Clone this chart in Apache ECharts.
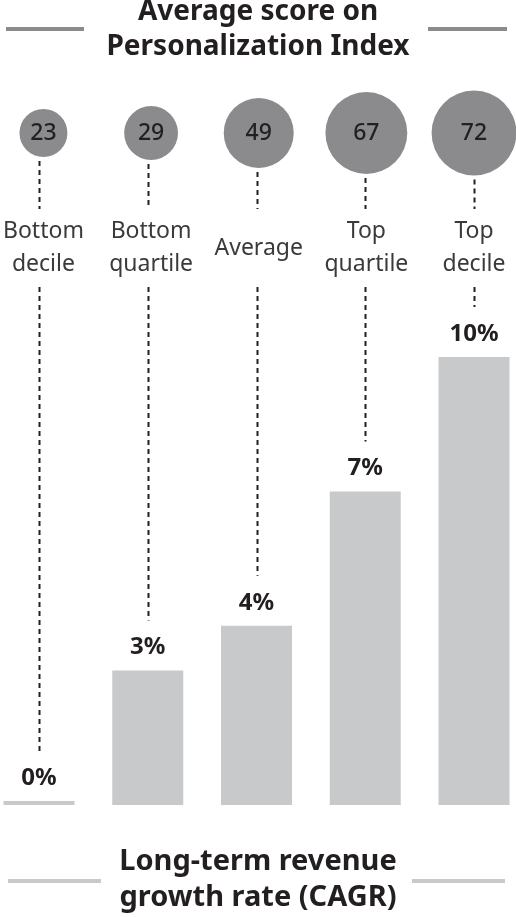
<!DOCTYPE html>
<html>
<head>
<meta charset="utf-8">
<script src="https://cdn.jsdelivr.net/npm/echarts@6/dist/echarts.min.js"></script>
<style>
  html, body { margin: 0; padding: 0; background: #fff; }
  #container { width: 516px; height: 917px; }
</style>
</head>
<body>
<div id="container"></div>
<script>
var groups = ['Bottom\ndecile', 'Bottom\nquartile', 'Average', 'Top\nquartile', 'Top\ndecile'];
var scores = [23, 29, 49, 67, 72];      // Personalization Index
var growth = [0, 3, 4, 7, 10];          // long-term revenue CAGR, %

var CIRCLE_Y = 133;   // centre line of the score bubbles
var FONT = '"Noto Sans", sans-serif';

function bubbleSize(v) {
    return 10 * Math.sqrt(v);
}

var dom = document.getElementById('container');
var myChart = echarts.init(dom);

var option = {
    animation: false,
    textStyle: { fontFamily: FONT },
    title: [
        {
            text: 'Average score on\nPersonalization Index',
            left: 'center',
            top: -5,
            padding: 0,
            textStyle: { fontSize: 28, fontWeight: 'bold', color: '#231f20', lineHeight: 35, fontFamily: FONT }
        },
        {
            text: 'Long-term revenue\ngrowth rate (CAGR)',
            left: 'center',
            top: 844,
            padding: 0,
            textStyle: { fontSize: 29, fontWeight: 'bold', color: '#231f20', lineHeight: 36, fontFamily: FONT }
        }
    ],
    graphic: [
        { type: 'rect', shape: { x: 6, y: 27, width: 78, height: 4 }, style: { fill: '#8b8b8d' } },
        { type: 'rect', shape: { x: 428, y: 27, width: 79, height: 4 }, style: { fill: '#8b8b8d' } },
        { type: 'rect', shape: { x: 8, y: 879, width: 93, height: 4 }, style: { fill: '#c8c9cb' } },
        { type: 'rect', shape: { x: 412, y: 879, width: 93, height: 4 }, style: { fill: '#c8c9cb' } }
    ],
    grid: [
        { left: 39, right: 42, top: 357, bottom: 112 },
        { left: 39, right: 42, top: 100, height: 66 }
    ],
    xAxis: [
        {
            type: 'category', gridIndex: 0, data: groups, boundaryGap: false,
            axisLine: { show: false }, axisTick: { show: false }, axisLabel: { show: false }
        },
        {
            type: 'category', gridIndex: 1, data: groups, boundaryGap: false,
            axisLine: { show: false }, axisTick: { show: false },
            axisLabel: {
                show: true, interval: 0, margin: 82, verticalAlign: 'middle',
                fontSize: 23, lineHeight: 33, color: '#3a3a3a', fontFamily: FONT
            }
        }
    ],
    yAxis: [
        { type: 'value', gridIndex: 0, min: 0, max: 10, show: false },
        { type: 'value', gridIndex: 1, min: -1, max: 1, show: false }
    ],
    series: [
        {
            type: 'bar',
            xAxisIndex: 0, yAxisIndex: 0,
            data: growth,
            barWidth: 71,
            barMinHeight: 4,
            itemStyle: { color: '#c8c9cb' },
            label: {
                show: true, position: 'top', distance: 11,
                formatter: '{c}%',
                fontSize: 24, fontWeight: 'bold', color: '#231f20', fontFamily: FONT
            }
        },
        {
            type: 'scatter',
            xAxisIndex: 1, yAxisIndex: 1,
            data: scores.map(function (s, i) { return [i, 0, s]; }),
            symbolSize: function (val) { return bubbleSize(val[2]); },
            itemStyle: { color: '#8b8b8d', opacity: 1 },
            label: {
                show: true, position: 'inside',
                formatter: function (p) { return p.value[2]; },
                fontSize: 23, fontWeight: 500, color: '#231f20', fontFamily: FONT
            }
        },
        {
            // dashed leaders: bubble -> label, label -> bar value
            type: 'custom',
            xAxisIndex: 0, yAxisIndex: 0,
            silent: true,
            data: growth.map(function (g, i) { return [i, g, scores[i]]; }),
            renderItem: function (params, api) {
                var pt = api.coord([api.value(0), api.value(1)]);
                var x = Math.round(pt[0]) + 0.5;
                var r = bubbleSize(api.value(2)) / 2;
                var top = pt[1];
                if (api.value(1) === 0) top -= 2;
                var st = { stroke: '#231f20', lineWidth: 2, lineDash: [5, 4], fill: null };
                return {
                    type: 'group',
                    children: [
                        { type: 'line', shape: { x1: x, y1: CIRCLE_Y + r + 4, x2: x, y2: 209 }, style: st },
                        { type: 'line', shape: { x1: x, y1: 287, x2: x, y2: top - 50 }, style: st }
                    ]
                };
            }
        }
    ]
};

if (option && typeof option === 'object') {
    myChart.setOption(option, true);
}
</script>
</body>
</html>
